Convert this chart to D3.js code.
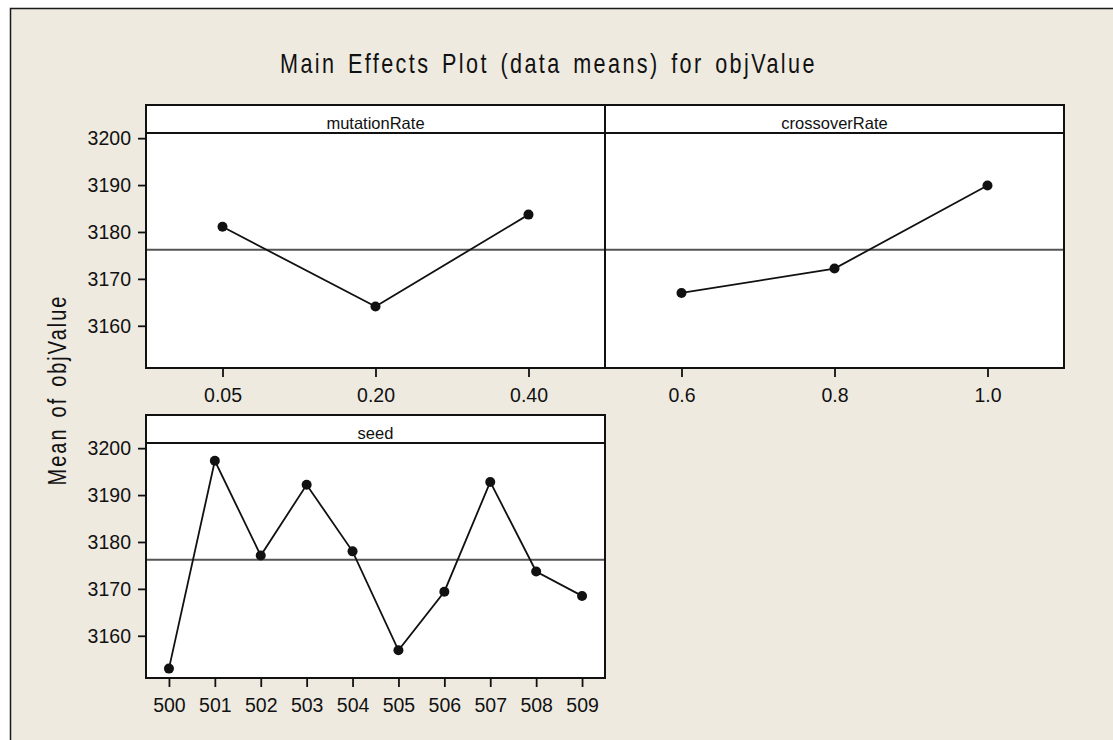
<!DOCTYPE html>
<html lang="en">
<head>
    <meta charset="UTF-8">
    <title>Main Effects Plot</title>
</head>
<style>
    body { margin: 0; background: #fff; }
    text { font-family: "Liberation Sans", Arial, sans-serif; fill: #111; }
    .tick line { stroke: #111; stroke-width: 1.8px; }
    .tick text { font-size: 19.5px; }
    .domain { display: none; }
    .panel { fill: #fff; }
    .border { fill: none; stroke: #111; stroke-width: 2px; }
    .meanline { stroke: #555; stroke-width: 2px; }
    .line { fill: none; stroke: #111; stroke-width: 1.8px; }
    .dot { fill: #111; }
</style>
<body>
<svg width="1113" height="740"></svg>
<script src="https://d3js.org/d3.v7.min.js"></script>
<script>
    // data
    var titleText = "Main Effects Plot (data means) for objValue";
    var yLabel = "Mean of objValue";
    var factorNames = ["mutationRate", "crossoverRate", "seed"];
    var mutationLevels = ["0.05", "0.20", "0.40"];
    var mutationMeans = [3181.1, 3164.1, 3183.7];
    var crossoverLevels = ["0.6", "0.8", "1.0"];
    var crossoverMeans = [3167.0, 3172.2, 3189.9];
    var seedLevels = ["500", "501", "502", "503", "504", "505", "506", "507", "508", "509"];
    var seedMeans = [3153.0, 3197.3, 3177.1, 3192.2, 3178.0, 3156.9, 3169.4, 3192.8, 3173.7, 3168.5];
    var yTicks = [3160, 3170, 3180, 3190, 3200];
    var yDomain = [3151, 3201.1];
    var grandMean = 3176.2;

    var svg = d3.select("svg");

    // outer graph frame
    svg.append("rect")
        .attr("x", 10.5).attr("y", 8.5)
        .attr("width", 1300).attr("height", 900)
        .attr("fill", "#eeeae0")
        .attr("stroke", "#1a1a1a")
        .attr("stroke-width", 1.5);

    // title, condensed and spaced like minitab
    svg.append("text")
        .attr("transform", "translate(280,72.5) scale(0.8,1)")
        .style("font-size", "27px")
        .style("letter-spacing", "3px")
        .style("word-spacing", "4px")
        .text(titleText);

    svg.append("text")
        .attr("transform", "translate(66,390) rotate(-90) scale(0.8,1)")
        .attr("text-anchor", "middle")
        .style("font-size", "25px")
        .style("letter-spacing", "2.5px")
        .style("word-spacing", "3px")
        .text(yLabel);

    var panelW = 459, panelH = 263, stripH = 28;
    var colX = [146, 605], rowY = [105, 415];

    var panels = [
        {name: factorNames[0], levels: mutationLevels, means: mutationMeans, col: 0, row: 0},
        {name: factorNames[1], levels: crossoverLevels, means: crossoverMeans, col: 1, row: 0},
        {name: factorNames[2], levels: seedLevels, means: seedMeans, col: 0, row: 1}
    ];

    panels.forEach(function (p) {
        var g = svg.append("g")
            .attr("transform", "translate(" + colX[p.col] + "," + rowY[p.row] + ")");

        var x = d3.scalePoint()
            .domain(p.levels)
            .range([0, panelW])
            .padding(0.5);
        var y = d3.scaleLinear()
            .domain(yDomain)
            .range([panelH, stripH]);

        g.append("rect").attr("class", "panel")
            .attr("width", panelW).attr("height", panelH);

        // grand mean reference line
        g.append("line").attr("class", "meanline")
            .attr("x1", 0).attr("x2", panelW)
            .attr("y1", y(grandMean)).attr("y2", y(grandMean));

        var pts = p.levels.map(function (l, i) { return {level: l, mean: p.means[i]}; });

        var line = d3.line()
            .x(function (d) { return x(d.level); })
            .y(function (d) { return y(d.mean); });

        g.append("path").datum(pts)
            .attr("class", "line")
            .attr("d", line);

        g.selectAll("circle")
            .data(pts)
            .enter().append("circle")
            .attr("class", "dot")
            .attr("cx", function (d) { return x(d.level); })
            .attr("cy", function (d) { return y(d.mean); })
            .attr("r", 5);

        // strip with factor name
        g.append("line")
            .attr("x1", 0).attr("x2", panelW)
            .attr("y1", stripH).attr("y2", stripH)
            .attr("stroke", "#111").attr("stroke-width", 2);
        g.append("text")
            .attr("x", panelW / 2)
            .attr("y", stripH - 4.5)
            .attr("text-anchor", "middle")
            .style("font-size", "16.5px")
            .text(p.name);

        g.append("rect").attr("class", "border")
            .attr("width", panelW).attr("height", panelH);

        g.append("g")
            .attr("transform", "translate(0," + panelH + ")")
            .call(d3.axisBottom(x).tickSize(9).tickPadding(11));

        if (p.col === 0) {
            g.append("g")
                .call(d3.axisLeft(y).tickValues(yTicks).tickSize(8).tickPadding(7)
                    .tickFormat(d3.format("d")));
        }
    });
</script>
</body>
</html>
